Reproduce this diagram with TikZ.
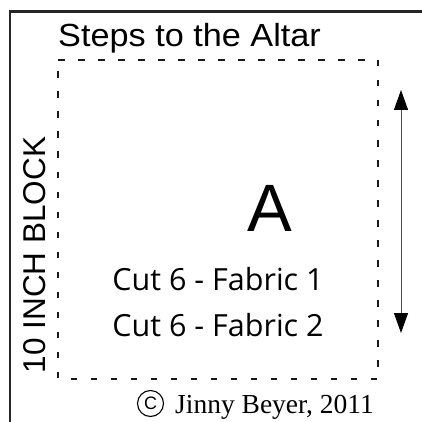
\documentclass[tikz,border=0pt]{standalone}
\usepackage{fontspec}
\setmainfont{Liberation Serif}
\newfontfamily\arialfont{Liberation Sans}
\newfontfamily\cutfont{Open Sans}
\usetikzlibrary{arrows.meta}
\begin{document}
\begin{tikzpicture}[
                x=1pt,y=-1pt,
                every node/.append style={black,inner sep=0pt},
                seam/.style={line width=2.4pt,black!90,dash pattern=on 6.5pt off 13.5pt},
                label text/.style={font=\arialfont\fontsize{31.5}{36}\selectfont}
            ]
                \useasboundingbox (0,0) rectangle (422,422);
                \draw[line width=2.3pt,black!85] (10,422) -- (10,11.5) -- (422,11.5);
                \draw[seam] (58,60) -- (378,60) -- (378,379) -- (58,379) -- cycle;
                \node[anchor=base west,xscale=1.07,font=\arialfont\fontsize{32}{36}\selectfont] (title) at (58,47) {Steps to the Altar};
                \node[label text,anchor=base,rotate=90] (blocklabel) at (45,255) {10 INCH BLOCK};
                \node[anchor=base,font=\arialfont\fontsize{67}{70}\selectfont] (letter) at (270,231) {A};
                \node[anchor=base,font=\cutfont\fontsize{30.5}{34}\selectfont] (cut1) at (218,290) {Cut 6 - Fabric 1};
                \node[anchor=base,font=\cutfont\fontsize{30.5}{34}\selectfont] (cut2) at (218,336) {Cut 6 - Fabric 2};
                \node[circle,draw,line width=1.1pt,minimum size=26pt,font=\arialfont\fontsize{18}{20}\selectfont] (copy) at (150.5,403.5) {C};
                \node[anchor=base west,font=\fontsize{27.5}{30}\selectfont] (credit) at (175,413) {Jinny Beyer, 2011};
                \coordinate (uptip) at (401,90);
                \coordinate (downtip) at (401,333);
                \draw[black!70,line width=1pt,{Triangle[length=20pt,width=14pt,color=black]}-{Triangle[length=20pt,width=14pt,color=black]}] (uptip) -- (downtip);
            \end{tikzpicture}
\end{document}
